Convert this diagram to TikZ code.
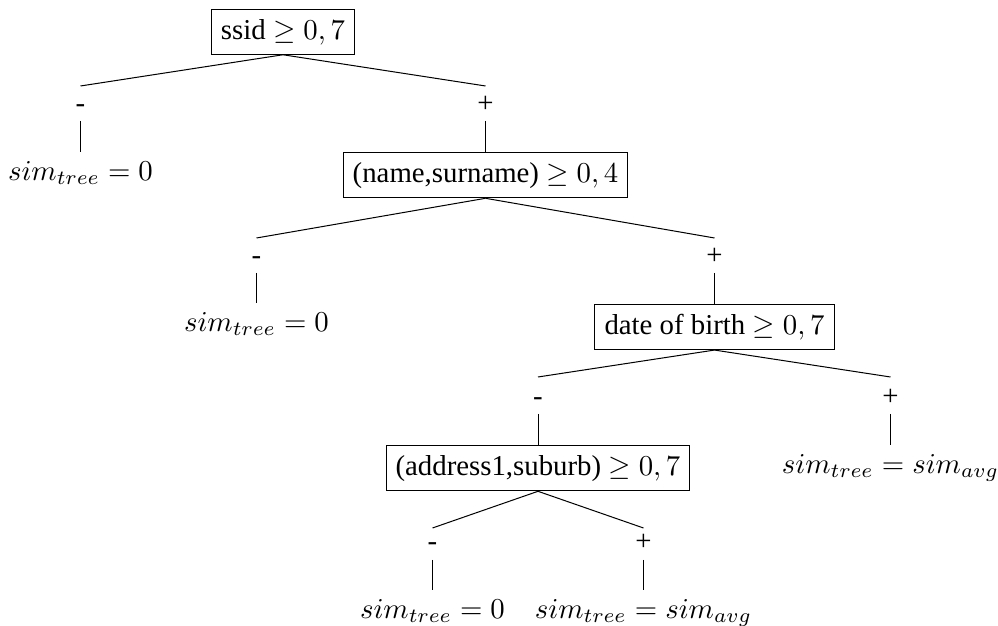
\documentclass[tikz,border=0pt]{standalone}
\usepackage{fontspec}
\setmainfont{Liberation Serif}
\begin{document}
\begin{tikzpicture}[x=0.3472pt,y=-0.3472pt, line width=0.35pt,
  testbox/.style={draw, inner sep=3.33pt, anchor=north},
  leaf/.style={inner sep=3pt, anchor=north},
  branchlbl/.style={anchor=base, inner sep=0pt}]
\useasboundingbox (-0.5,0) rectangle (997.5,626);
% test nodes
\node[testbox] (b1) at (282.5,9) {ssid $\geq 0,7$};
\node[testbox] (b2) at (485,152) {(name,surname) $\geq 0,4$};
\node[testbox] (b3) at (714,304) {date of birth $\geq 0,7$};
\node[testbox] (b4) at (537.5,445) {(address1,suburb) $\geq 0,7$};
% leaves
\node[leaf] (l1) at (80,152) {$sim_{tree}=0$};
\node[leaf] (l2) at (256,303) {$sim_{tree}=0$};
\node[leaf] (l3) at (890,445) {$sim_{tree}=sim_{avg}$};
\node[leaf] (l4) at (432,590) {$sim_{tree}=0$};
\node[leaf] (l5) at (643,590) {$sim_{tree}=sim_{avg}$};
% branch labels
\node[branchlbl] (m1) at (80,113) {-};
\node[branchlbl] (p1) at (485,113) {+};
\node[branchlbl] (m2) at (256,265) {-};
\node[branchlbl] (p2) at (714,265) {+};
\node[branchlbl] (m3) at (537.5,406) {-};
\node[branchlbl] (p3) at (890,406) {+};
\node[branchlbl] (m4) at (432,551) {-};
\node[branchlbl] (p4) at (643,551) {+};
% line end points
\coordinate (tm1) at (80,86);   \coordinate (tp1) at (485,86);
\coordinate (sm1) at (80,121);  \coordinate (sp1) at (485,121);
\coordinate (tm2) at (256,238); \coordinate (tp2) at (714,238);
\coordinate (sm2) at (256,273); \coordinate (sp2) at (714,273);
\coordinate (tm3) at (537.5,377); \coordinate (tp3) at (890,377);
\coordinate (sm3) at (537.5,414); \coordinate (sp3) at (890,414);
\coordinate (tm4) at (432,528); \coordinate (tp4) at (643,528);
\coordinate (sm4) at (432,560); \coordinate (sp4) at (643,560);
% connectors
\draw (b1.south) -- (tm1); \draw (b1.south) -- (tp1);
\draw (sm1) -- (l1.north); \draw (sp1) -- (b2.north);
\draw (b2.south) -- (tm2); \draw (b2.south) -- (tp2);
\draw (sm2) -- (l2.north); \draw (sp2) -- (b3.north);
\draw (b3.south) -- (tm3); \draw (b3.south) -- (tp3);
\draw (sm3) -- (b4.north); \draw (sp3) -- (l3.north);
\draw (b4.south) -- (tm4); \draw (b4.south) -- (tp4);
\draw (sm4) -- (l4.north); \draw (sp4) -- (l5.north);
\end{tikzpicture}
\end{document}
